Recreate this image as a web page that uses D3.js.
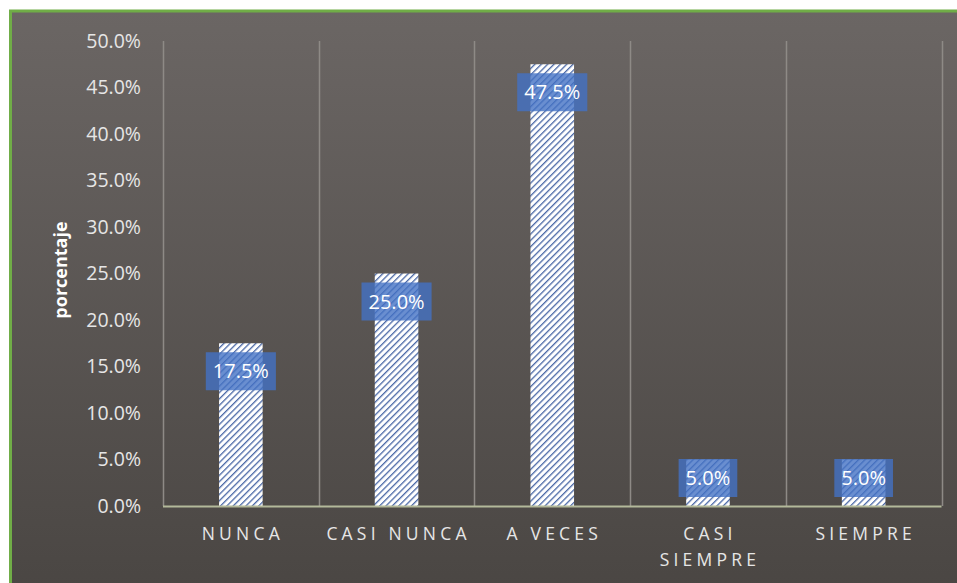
<!DOCTYPE html>
<html><head><meta charset="utf-8">
<script src="https://cdn.jsdelivr.net/npm/d3@7"></script>
<style>html,body{margin:0;padding:0;background:#fff;overflow:hidden}</style>
</head><body>
<svg id="c" width="957" height="583"></svg>
<script>
const categories = ["NUNCA", "CASI NUNCA", "A VECES", "CASI SIEMPRE", "SIEMPRE"];
const values = [17.5, 25.0, 47.5, 5.0, 5.0];
const yTicks = [0, 5, 10, 15, 20, 25, 30, 35, 40, 45, 50];
const yTitle = "porcentaje";

const W = 957, H = 583;
const svg = d3.select("#c");
const defs = svg.append("defs");

const g = defs.append("linearGradient").attr("id","bg").attr("x1",0).attr("y1",0).attr("x2",0).attr("y2",1);
g.append("stop").attr("offset","0%").attr("stop-color","#6b6664");
g.append("stop").attr("offset","100%").attr("stop-color","#4a4643");

const pat = defs.append("pattern").attr("id","hatch").attr("patternUnits","userSpaceOnUse")
  .attr("width",4.5).attr("height",4.5).attr("patternTransform","rotate(45)");
pat.append("rect").attr("width",4.5).attr("height",4.5).attr("fill","#ffffff");
pat.append("rect").attr("x",0).attr("y",0).attr("width",1.3).attr("height",4.5).attr("fill","#4a68a6");

// background and border
svg.append("rect").attr("x",10).attr("y",11).attr("width",W).attr("height",H).attr("fill","url(#bg)");
svg.append("line").attr("x1",10.5).attr("x2",10.5).attr("y1",10).attr("y2",H).attr("stroke","#70ad47").attr("stroke-width",3);
svg.append("line").attr("x1",9).attr("x2",W).attr("y1",11).attr("y2",11).attr("stroke","#70ad47").attr("stroke-width",3);

const x = d3.scaleBand().domain(categories).range([163, 941.5]).paddingInner(0).paddingOuter(0);
const y = d3.scaleLinear().domain([0, 50]).range([506, 41]);

// vertical gridlines at category boundaries
const bounds = categories.map(c => x(c)).concat([x.range()[1]]);
svg.append("g").selectAll("line").data(bounds).join("line")
  .attr("x1", d => Math.round(d)+0.5).attr("x2", d => Math.round(d)+0.5)
  .attr("y1", y(50)).attr("y2", y(0))
  .attr("stroke","#8e8a86").attr("stroke-width",1.5);

// y axis tick labels
const yAxis = d3.axisLeft(y).tickValues(yTicks).tickSize(0).tickPadding(0)
  .tickFormat(d => d.toFixed(1) + "%");
const ya = svg.append("g").attr("transform","translate(141,0)").call(yAxis);
ya.select(".domain").remove();
ya.selectAll("text").attr("fill","#e6e6e6").attr("font-family","'Open Sans', sans-serif").attr("font-size",19.5);

// y title
svg.append("text").attr("transform","translate(67,270) rotate(-90)")
  .attr("text-anchor","middle").attr("font-family","'Open Sans', sans-serif").attr("font-weight","bold")
  .attr("font-size",18).attr("fill","#ffffff").text(yTitle);

// bars
const bw = x.bandwidth() * 0.28;
const data = categories.map((c,i) => ({c, v: values[i]}));
svg.append("g").selectAll("rect").data(data).join("rect")
  .attr("x", d => x(d.c) + x.bandwidth()/2 - bw/2)
  .attr("y", d => y(d.v)).attr("width", bw).attr("height", d => y(0) - y(d.v))
  .attr("fill","url(#hatch)");

// baseline
svg.append("line").attr("x1",163).attr("x2",941.5).attr("y1",y(0)+0.5).attr("y2",y(0)+0.5)
  .attr("stroke","#b3b99a").attr("stroke-width",2);

// data labels
const lg = svg.append("g").selectAll("g").data(data).join("g");
lg.each(function(d){
  const gg = d3.select(this);
  const cx = x(d.c) + x.bandwidth()/2;
  let cy = Math.min(y(d.v) + 28, y(0) - 28);
  const t = gg.append("text").attr("x", cx).attr("y", cy).attr("dy","0.35em")
    .attr("text-anchor","middle").attr("font-family","'Open Sans', sans-serif").attr("font-size",20)
    .attr("fill","#ffffff").text(d.v.toFixed(1) + "%");
  const w = t.node().getComputedTextLength();
  gg.insert("rect","text").attr("x", cx - w/2 - 7).attr("y", cy - 19).attr("width", w + 14).attr("height", 38)
    .attr("fill","#4472c4").attr("fill-opacity",0.8);
});

// x labels with wrapping
const xl = svg.append("g");
categories.forEach(c => {
  const cx = x(c) + x.bandwidth()/2 + 2;
  const t = xl.append("text").attr("x", cx).attr("y", 540).attr("text-anchor","middle")
    .attr("font-family","'Open Sans', sans-serif").attr("font-size",17.5).attr("letter-spacing","4.2px")
    .attr("fill","#e6e6e6").text(c);
  if (t.node().getComputedTextLength() > 158 && c.includes(" ")) {
    const words = c.split(" ");
    t.text(null);
    words.forEach((w,i) => t.append("tspan").attr("x", cx).attr("dy", i===0 ? 0 : 26).text(w));
  }
});
</script>
</body></html>
